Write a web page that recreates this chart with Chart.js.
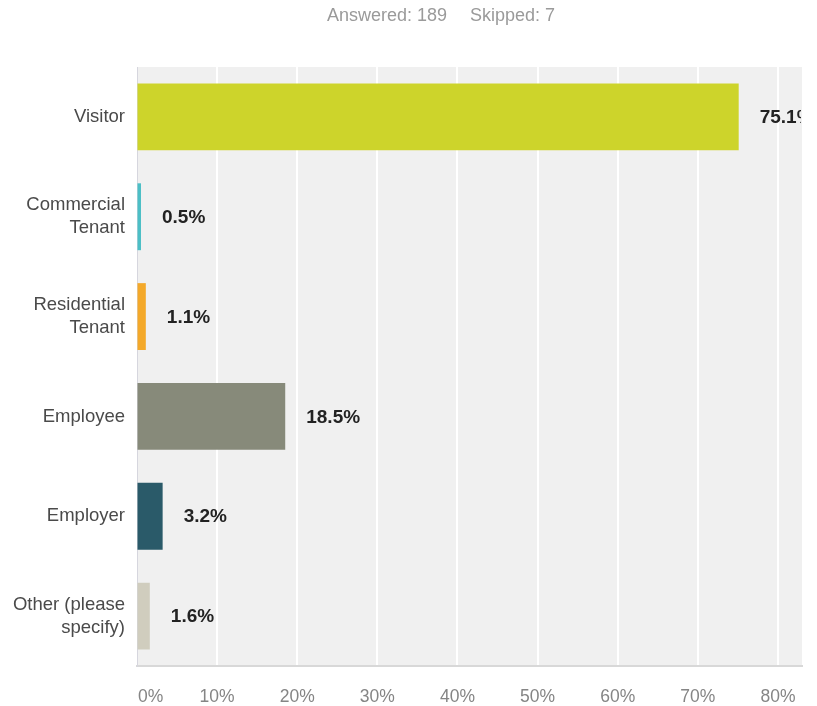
<!DOCTYPE html>
<html>
<head>
<meta charset="utf-8">
<title>Respondent type</title>
<script src="https://cdn.jsdelivr.net/npm/chart.js@4/dist/chart.umd.min.js"></script>
<style>
  html, body { margin: 0; padding: 0; background: #ffffff; }
  #chart { display: block; }
</style>
</head>
<body>
<canvas id="chart" width="817" height="706"></canvas>
<script>
const categories = [
  "Visitor",
  ["Commercial", "Tenant"],
  ["Residential", "Tenant"],
  "Employee",
  "Employer",
  ["Other (please", "specify)"],
];
const shares = [75.1, 0.5, 1.1, 18.5, 3.2, 1.6];
const barColors = ["#cdd42b", "#4cbfc6", "#f4a92a", "#878a7a", "#2a5a69", "#d0cdbe"];
const xTicks = [0, 10, 20, 30, 40, 50, 60, 70, 80];
const answered = 189;
const skipped = 7;

const FONT = "'Liberation Sans', Arial, Helvetica, sans-serif";

// gray plot background behind bars
const plotBackground = {
  id: "plotBackground",
  beforeDraw(chart) {
    const { ctx, chartArea } = chart;
    ctx.save();
    ctx.fillStyle = "#f0f0f0";
    ctx.fillRect(chartArea.left, chartArea.top, chartArea.right - chartArea.left, chartArea.bottom - chartArea.top);
    ctx.restore();
  },
};

// "Answered / Skipped" summary line over the plot
const summaryLine = {
  id: "summaryLine",
  afterDraw(chart) {
    const { ctx } = chart;
    const first = `Answered: ${answered}`;
    const second = `Skipped: ${skipped}`;
    const gap = 23;
    ctx.save();
    ctx.font = `18px ${FONT}`;
    ctx.fillStyle = "#9a9a9a";
    ctx.textAlign = "left";
    ctx.textBaseline = "middle";
    const w1 = ctx.measureText(first).width;
    const w2 = ctx.measureText(second).width;
    const start = 441 - (w1 + gap + w2) / 2;
    ctx.fillText(first, start, 16);
    ctx.fillText(second, start + w1 + gap, 16);
    ctx.restore();
  },
};

// percent labels at the end of each bar, cut off at the plot edge
const valueLabels = {
  id: "valueLabels",
  afterDatasetsDraw(chart) {
    const { ctx, chartArea } = chart;
    const meta = chart.getDatasetMeta(0);
    ctx.save();
    ctx.beginPath();
    ctx.rect(0, 0, chartArea.right - 1, chart.height);
    ctx.clip();
    ctx.font = `bold 19px ${FONT}`;
    ctx.fillStyle = "#222222";
    ctx.textAlign = "left";
    ctx.textBaseline = "middle";
    meta.data.forEach((bar, index) => {
      ctx.fillText(shares[index].toFixed(1) + "%", bar.x + 21, bar.y + 1);
    });
    ctx.restore();
  },
};

// x tick labels, first one nudged so it does not hang past the axis
const xLabels = {
  id: "xLabels",
  afterDraw(chart) {
    const { ctx, chartArea } = chart;
    const scale = chart.scales.x;
    ctx.save();
    ctx.font = `17.5px ${FONT}`;
    ctx.fillStyle = "#858585";
    ctx.textAlign = "center";
    ctx.textBaseline = "middle";
    xTicks.forEach((value) => {
      const text = value + "%";
      const half = ctx.measureText(text).width / 2;
      const x = Math.max(scale.getPixelForValue(value), chartArea.left + half + 1);
      ctx.fillText(text, x, 697);
    });
    ctx.restore();
  },
};

new Chart(document.getElementById("chart"), {
  type: "bar",
  data: {
    labels: categories,
    datasets: [
      {
        data: shares,
        backgroundColor: barColors,
        borderWidth: 0,
        categoryPercentage: 1,
        barPercentage: 0.67,
      },
    ],
  },
  options: {
    indexAxis: "y",
    responsive: false,
    animation: false,
    devicePixelRatio: 1,
    layout: { padding: { left: 0, right: 15, top: 67, bottom: 0 } },
    plugins: {
      legend: { display: false },
      tooltip: { enabled: false },
      title: { display: false },
    },
    scales: {
      x: {
        min: 0,
        max: 83,
        afterFit(scale) {
          scale.height = 40;
        },
        afterBuildTicks(scale) {
          scale.ticks = xTicks.map((value) => ({ value }));
        },
        ticks: { display: false },
        grid: {
          color: (context) => (context.tick && context.tick.value === 0 ? "#d6d6de" : "#ffffff"),
          lineWidth: (context) => (context.tick && context.tick.value === 0 ? 1 : 2),
          drawTicks: false,
        },
        border: { display: true, color: "#d8d8d8", width: 2 },
      },
      y: {
        afterFit(scale) {
          scale.width = 137;
        },
        ticks: {
          color: "#4a4a4a",
          padding: 12,
          font: { family: FONT, size: 18.5, lineHeight: 1.25 },
        },
        grid: { display: false, drawTicks: false },
        border: { display: true, color: "#d6d6de", width: 1 },
      },
    },
  },
  plugins: [plotBackground, valueLabels, xLabels, summaryLine],
});
</script>
</body>
</html>
